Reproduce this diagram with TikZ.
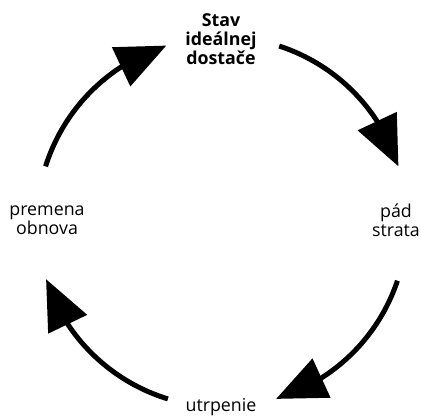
\documentclass[tikz,border=0pt]{standalone}
\usepackage{fontspec}
\setmainfont{Open Sans}
\usetikzlibrary{arrows.meta,bending}
\begin{document}
\begin{tikzpicture}[x=1pt,y=1pt,
  lbl/.style={inner sep=0pt, align=center, font=\fontsize{17.8}{18.8}\selectfont},
  cyc/.style={line width=5pt, -{Triangle[length=50pt,width=42pt,flex]}}]
\useasboundingbox (0,0) rectangle (421,-417);
\coordinate (C) at (222,-222);
\node[lbl, font=\fontsize{17.8}{18.8}\selectfont\bfseries] (top) at (221,-39) {Stav\\ideálnej\\dostače};
\node[lbl] (right) at (396,-220) {pád\\strata};
\node[lbl] (left) at (47,-220) {premena\\obnova};
\node[lbl, anchor=base] (bottom) at (221,-411) {utrpenie};
\draw[cyc] ([shift={(162.5:185)}]C) arc[start angle=162.5, end angle=107.5, radius=185];
\draw[cyc] ([shift={(72:185)}]C) arc[start angle=72, end angle=17.5, radius=185];
\draw[cyc] ([shift={(-18.5:185)}]C) arc[start angle=-18.5, end angle=-73, radius=185];
\draw[cyc] ([shift={(-107:185)}]C) arc[start angle=-107, end angle=-162, radius=185];
\end{tikzpicture}
\end{document}
